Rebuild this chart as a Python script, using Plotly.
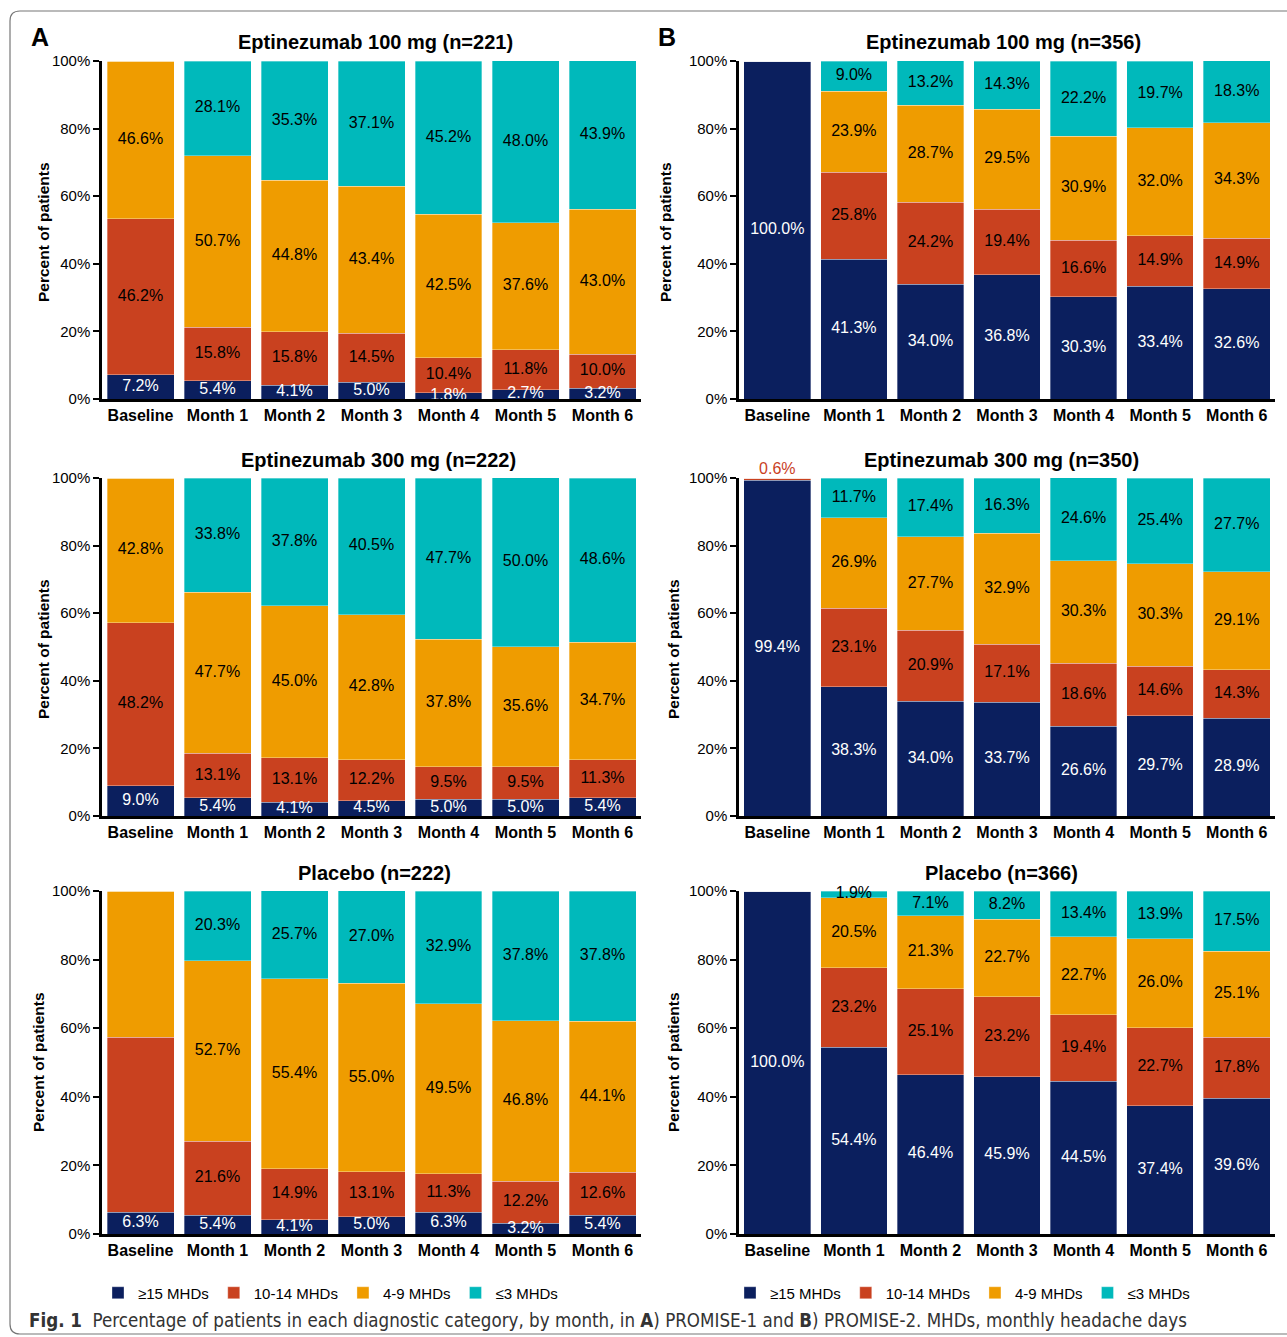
import plotly.graph_objects as go

# ---------------- data ----------------
categories = ["Baseline", "Month 1", "Month 2", "Month 3", "Month 4", "Month 5", "Month 6"]
series_names = ["≥15 MHDs", "10-14 MHDs", "4-9 MHDs", "≤3 MHDs"]

# Panel A (PROMISE-1)
a100_ge15 = [7.2, 5.4, 4.1, 5.0, 1.8, 2.7, 3.2]
a100_10_14 = [46.2, 15.8, 15.8, 14.5, 10.4, 11.8, 10.0]
a100_4_9 = [46.6, 50.7, 44.8, 43.4, 42.5, 37.6, 43.0]
a100_le3 = [0.0, 28.1, 35.3, 37.1, 45.2, 48.0, 43.9]

a300_ge15 = [9.0, 5.4, 4.1, 4.5, 5.0, 5.0, 5.4]
a300_10_14 = [48.2, 13.1, 13.1, 12.2, 9.5, 9.5, 11.3]
a300_4_9 = [42.8, 47.7, 45.0, 42.8, 37.8, 35.6, 34.7]
a300_le3 = [0.0, 33.8, 37.8, 40.5, 47.7, 50.0, 48.6]

apbo_ge15 = [6.3, 5.4, 4.1, 5.0, 6.3, 3.2, 5.4]
apbo_10_14 = [51.1, 21.6, 14.9, 13.1, 11.3, 12.2, 12.6]
apbo_4_9 = [42.6, 52.7, 55.4, 55.0, 49.5, 46.8, 44.1]
apbo_le3 = [0.0, 20.3, 25.7, 27.0, 32.9, 37.8, 37.8]

# Panel B (PROMISE-2)
b100_ge15 = [100.0, 41.3, 34.0, 36.8, 30.3, 33.4, 32.6]
b100_10_14 = [0.0, 25.8, 24.2, 19.4, 16.6, 14.9, 14.9]
b100_4_9 = [0.0, 23.9, 28.7, 29.5, 30.9, 32.0, 34.3]
b100_le3 = [0.0, 9.0, 13.2, 14.3, 22.2, 19.7, 18.3]

b300_ge15 = [99.4, 38.3, 34.0, 33.7, 26.6, 29.7, 28.9]
b300_10_14 = [0.6, 23.1, 20.9, 17.1, 18.6, 14.6, 14.3]
b300_4_9 = [0.0, 26.9, 27.7, 32.9, 30.3, 30.3, 29.1]
b300_le3 = [0.0, 11.7, 17.4, 16.3, 24.6, 25.4, 27.7]

bpbo_ge15 = [100.0, 54.4, 46.4, 45.9, 44.5, 37.4, 39.6]
bpbo_10_14 = [0.0, 23.2, 25.1, 23.2, 19.4, 22.7, 17.8]
bpbo_4_9 = [0.0, 20.5, 21.3, 22.7, 22.7, 26.0, 25.1]
bpbo_le3 = [0.0, 1.9, 7.1, 8.2, 13.4, 13.9, 17.5]

panel_titles = ["Eptinezumab 100 mg (n=221)", "Eptinezumab 100 mg (n=356)",
                "Eptinezumab 300 mg (n=222)", "Eptinezumab 300 mg (n=350)",
                "Placebo (n=222)", "Placebo (n=366)"]
y_ticks = [0, 20, 40, 60, 80, 100]
y_tick_labels = ["0%", "20%", "40%", "60%", "80%", "100%"]

# ---------------- styling / layout ----------------
colors = ["#0b1f5e", "#c9411f", "#ef9c00", "#00b9bb"]
label_colors = ["white", "black", "black", "black"]
FONT = "Arial, Liberation Sans, sans-serif"

W, H = 1287, 1337


def X(p):
    return p / W


def Y(p):
    return 1 - p / H


panels = [
    [a100_ge15, a100_10_14, a100_4_9, a100_le3],
    [b100_ge15, b100_10_14, b100_4_9, b100_le3],
    [a300_ge15, a300_10_14, a300_4_9, a300_le3],
    [b300_ge15, b300_10_14, b300_4_9, b300_le3],
    [apbo_ge15, apbo_10_14, apbo_4_9, apbo_le3],
    [bpbo_ge15, bpbo_10_14, bpbo_4_9, bpbo_le3],
]
# (panel, series, category) whose label is not printed inside the bar
hidden_labels = {(4, 1, 0), (4, 2, 0), (3, 1, 0)}
# labels printed just above the top of the bar, in the segment's colour
above_labels = {(3, 1, 0)}

col_x = [(102, 641), (739, 1275)]
row_y = [(61, 399), (478, 816), (891, 1234)]
title_pos = [(375, 42), (1003, 42), (378, 460), (1001, 460), (374, 873), (1002, 873)]
ytitle_pos = [(43, 232), (665, 232), (43, 649), (673, 649), (38, 1062), (673, 1062)]

fig = go.Figure()

for pi, series in enumerate(panels):
    ax = "" if pi == 0 else str(pi + 1)
    xref, yref = "x" + ax, "y" + ax
    row, col = pi // 2, pi % 2
    for si, vals in enumerate(series):
        fig.add_trace(go.Bar(
            x=categories, y=vals, name=series_names[si],
            marker=dict(color=colors[si], line=dict(width=0.6, color="rgba(255,255,255,0.55)")),
            xaxis=xref, yaxis=yref, showlegend=pi in (4, 5),
            legend="legend" if pi == 4 else "legend2",
            hoverinfo="skip",
        ))
    # segment labels, centred on each stacked segment
    bottoms = [0.0] * len(categories)
    for si, vals in enumerate(series):
        xs, ys, ts, cs = [], [], [], []
        ax_x, ax_y, ax_t = [], [], []
        for ci, v in enumerate(vals):
            key = (pi, si, ci)
            if v > 0 and key not in hidden_labels:
                xs.append(categories[ci])
                ys.append(bottoms[ci] + v / 2)
                ts.append(f"{v:.1f}%")
                cs.append(label_colors[si])
            bottoms[ci] += v
            if key in above_labels:
                ax_x.append(categories[ci])
                ax_y.append(sum(s[ci] for s in series))
                ax_t.append(f"{v:.1f}%")
        fig.add_trace(go.Scatter(
            x=xs, y=ys, text=ts, mode="text",
            textfont=dict(family=FONT, size=16, color=cs),
            xaxis=xref, yaxis=yref, showlegend=False, hoverinfo="skip",
            cliponaxis=False,
        ))
        if ax_x:
            fig.add_trace(go.Scatter(
                x=ax_x, y=ax_y, text=ax_t, mode="text", textposition="top center",
                textfont=dict(family=FONT, size=16, color=colors[si]),
                xaxis=xref, yaxis=yref, showlegend=False, hoverinfo="skip",
                cliponaxis=False,
            ))

    x0, x1 = col_x[col]
    y0, y1 = row_y[row]
    fig.layout["xaxis" + ax] = dict(
        domain=[X(x0), X(x1)], anchor=yref, type="category", automargin=False,
        showline=True, linewidth=3, linecolor="black", ticks="",
        tickfont=dict(family=FONT, size=16, color="black", weight="bold"),
        showgrid=False, zeroline=False, fixedrange=True,
    )
    fig.layout["yaxis" + ax] = dict(
        domain=[Y(y1), Y(y0)], anchor=xref, range=[0, 100], automargin=False,
        tickvals=y_ticks, ticktext=y_tick_labels,
        showline=True, linewidth=2.5, linecolor="black",
        ticks="outside", ticklen=6, tickwidth=1.5, tickcolor="black",
        tickfont=dict(family=FONT, size=15, color="black"),
        showgrid=False, zeroline=False, fixedrange=True,
    )

annotations = []
for pi, t in enumerate(panel_titles):
    tx, ty = title_pos[pi]
    annotations.append(dict(text=t, x=X(tx), y=Y(ty), xref="paper", yref="paper",
                            xanchor="center", yanchor="middle", showarrow=False,
                            font=dict(family=FONT, size=20, color="black", weight="bold")))
    yx, yy = ytitle_pos[pi]
    annotations.append(dict(text="Percent of patients", x=X(yx), y=Y(yy), xref="paper", yref="paper",
                            xanchor="center", yanchor="middle", showarrow=False, textangle=-90,
                            font=dict(family=FONT, size=15.5, color="black", weight="bold")))
for letter, lx in (("A", 40), ("B", 667)):
    annotations.append(dict(text=letter, x=X(lx), y=Y(37), xref="paper", yref="paper",
                            xanchor="center", yanchor="middle", showarrow=False,
                            font=dict(family=FONT, size=25, color="black", weight="bold")))
annotations.append(dict(
    text="<b>Fig. 1</b>\u00a0\u00a0Percentage of patients in each diagnostic category, by month, in "
         "<b>A</b>) PROMISE-1 and <b>B</b>) PROMISE-2. MHDs, monthly headache days",
    x=X(27), y=Y(1320), xref="paper", yref="paper", xanchor="left", yanchor="middle",
    showarrow=False, font=dict(family="DejaVu Sans Condensed, sans-serif", size=18.6, color="#333333")))

# rounded frame
r = 10
fx0, fy0, fy1, fx1 = 10, 11, 1334, 1300
frame_path = (f"M {X(fx1)},{Y(fy0)} L {X(fx0 + r)},{Y(fy0)} Q {X(fx0)},{Y(fy0)} {X(fx0)},{Y(fy0 + r)} "
              f"L {X(fx0)},{Y(fy1 - r)} Q {X(fx0)},{Y(fy1)} {X(fx0 + r)},{Y(fy1)} L {X(fx1)},{Y(fy1)}")

legend_common = dict(orientation="h", yanchor="middle", xanchor="left",
                     font=dict(family=FONT, size=15, color="black"), bgcolor="rgba(0,0,0,0)",
                     traceorder="normal", itemclick=False, itemdoubleclick=False)
fig.update_layout(
    width=W, height=H, autosize=False,
    margin=dict(l=0, r=0, t=0, b=0, pad=0),
    paper_bgcolor="white", plot_bgcolor="white",
    barmode="stack", bargap=0.13,
    annotations=annotations,
    shapes=[dict(type="path", path=frame_path, xref="paper", yref="paper",
                 line=dict(color="#777777", width=1.2))],
    legend=dict(x=X(98), y=Y(1293), **legend_common),
    legend2=dict(x=X(730), y=Y(1293), **legend_common),
    showlegend=True,
)

fig.write_html("out.html", config={"displayModeBar": False},
               post_script="document.body.style.margin='0';document.body.style.overflow='hidden';")
